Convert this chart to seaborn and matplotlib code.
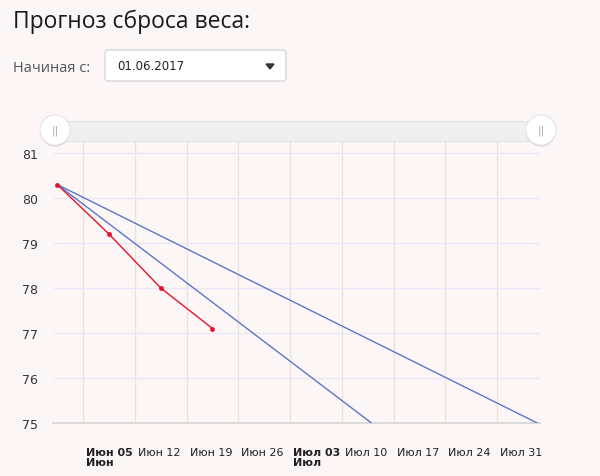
import seaborn as sns
import matplotlib.pyplot as plt
import matplotlib.transforms as mtransforms
from matplotlib.patches import FancyBboxPatch, Circle, Rectangle, Polygon
import pandas as pd

# Weigh-ins (red) and two forecast lines (blue)
weigh_dates = ['2017-06-01 12:00', '2017-06-08 12:00', '2017-06-15 12:00', '2017-06-22 12:00']
weigh_values = [80.3, 79.2, 78.0, 77.1]

slow_dates = ['2017-06-01 12:00', '2017-08-05 10:00']
slow_values = [80.3, 75.0]

fast_dates = ['2017-06-01 12:00', '2017-07-14 00:00']
fast_values = [80.3, 75.0]

tick_dates = ['2017-06-05', '2017-06-12', '2017-06-19', '2017-06-26', '2017-07-03',
              '2017-07-10', '2017-07-17', '2017-07-24', '2017-07-31']
tick_labels = ['Июн 05\nИюн', 'Июн 12', 'Июн 19', 'Июн 26', 'Июл 03\nИюл',
               'Июл 10', 'Июл 17', 'Июл 24', 'Июл 31']
bold_ticks = {0, 4}
y_ticks = [75, 76, 77, 78, 79, 80, 81]

weigh = pd.DataFrame({'date': pd.to_datetime(weigh_dates), 'weight': weigh_values})
slow = pd.DataFrame({'date': pd.to_datetime(slow_dates), 'weight': slow_values})
fast = pd.DataFrame({'date': pd.to_datetime(fast_dates), 'weight': fast_values})

BG = '#fdf6f6'
sns.set_style('white')
plt.rcParams['font.family'] = ['DejaVu Sans']

fig = plt.figure(figsize=(6, 4.77), dpi=100, facecolor=BG)
W, H = 600, 477
ax = fig.add_axes([53.5 / W, 1 - 424 / H, (540 - 53.5) / W, (424 - 142) / H])
ax.set_facecolor(BG)

sns.lineplot(data=slow, x='date', y='weight', color='#5a78c8', linewidth=1.0, ax=ax, zorder=3)
sns.lineplot(data=fast, x='date', y='weight', color='#5a78c8', linewidth=1.0, ax=ax, zorder=3)
sns.lineplot(data=weigh, x='date', y='weight', color='#e3142c', linewidth=1.0,
             marker='o', markersize=3.5, markeredgewidth=0, ax=ax, zorder=4)

ax.set_xlim(pd.Timestamp('2017-06-01 00:00'), pd.Timestamp('2017-08-05 19:00'))
ax.set_ylim(75, 81 + 12 / 45)

ax.set_xticks(pd.to_datetime(tick_dates))
ax.set_xticklabels(tick_labels)
ax.set_yticks(y_ticks)
ax.set_yticklabels([str(v) for v in y_ticks])
ax.set_xlabel('')
ax.set_ylabel('')

for s in ['top', 'right', 'left']:
    ax.spines[s].set_visible(False)
ax.spines['bottom'].set_color('#d6d6d6')
ax.spines['bottom'].set_linewidth(1.2)

ax.tick_params(axis='x', length=0, pad=17, labelsize=8, colors='#222222')
ax.tick_params(axis='y', length=0, pad=11, labelsize=9, colors='#333333')

offset = mtransforms.ScaledTranslation(3 / 100, 0, fig.dpi_scale_trans)
for i, lab in enumerate(ax.get_xticklabels()):
    lab.set_horizontalalignment('left')
    lab.set_transform(lab.get_transform() + offset)
    lab.set_linespacing(1.05)
    if i in bold_ticks:
        lab.set_fontweight('bold')

for d in pd.to_datetime(tick_dates):
    ax.axvline(d, color='#e9e4db', linewidth=1.0, zorder=1)
for v in y_ticks[1:]:
    ax.axhline(v, color='#e9e7f8', linewidth=1.0, zorder=1)

# Overlay in pixel coordinates for the header controls and range slider
ov = fig.add_axes([0, 0, 1, 1], facecolor='none')
ov.set_xlim(0, W)
ov.set_ylim(H, 0)
ov.axis('off')

ov.text(13, 22, 'Прогноз сброса веса:', fontsize=16.5, family='Open Sans',
        color='#1a1a1a', va='center', ha='left')
ov.text(13, 68, 'Начиная с:', fontsize=10.5, family='Open Sans',
        color='#555555', va='center', ha='left')
ov.add_patch(FancyBboxPatch((105, 51), 181, 31, boxstyle='round,pad=0,rounding_size=3',
                            facecolor='white', edgecolor='#d4d4d4', linewidth=0.9))
ov.text(117, 67, '01.06.2017', fontsize=8.5, color='#222222', va='center', ha='left')
ov.add_patch(Polygon([[266, 65], [274, 65], [270, 70]], closed=True, color='#333333'))

ov.add_patch(Rectangle((54, 122), 487, 20, facecolor='#efefef', edgecolor='#e2e2e2', linewidth=0.8))
for cx in (55, 541):
    ov.add_patch(Circle((cx, 132.5), 15, facecolor='#d6d6d6', edgecolor='none'))
    ov.add_patch(Circle((cx, 131), 15, facecolor='white', edgecolor='#e6e6e6', linewidth=0.8))
    ov.text(cx, 131, '||', fontsize=8, color='#aaaaaa', va='center', ha='center')

fig.savefig('out.png', dpi=100, facecolor=BG)
plt.close(fig)
